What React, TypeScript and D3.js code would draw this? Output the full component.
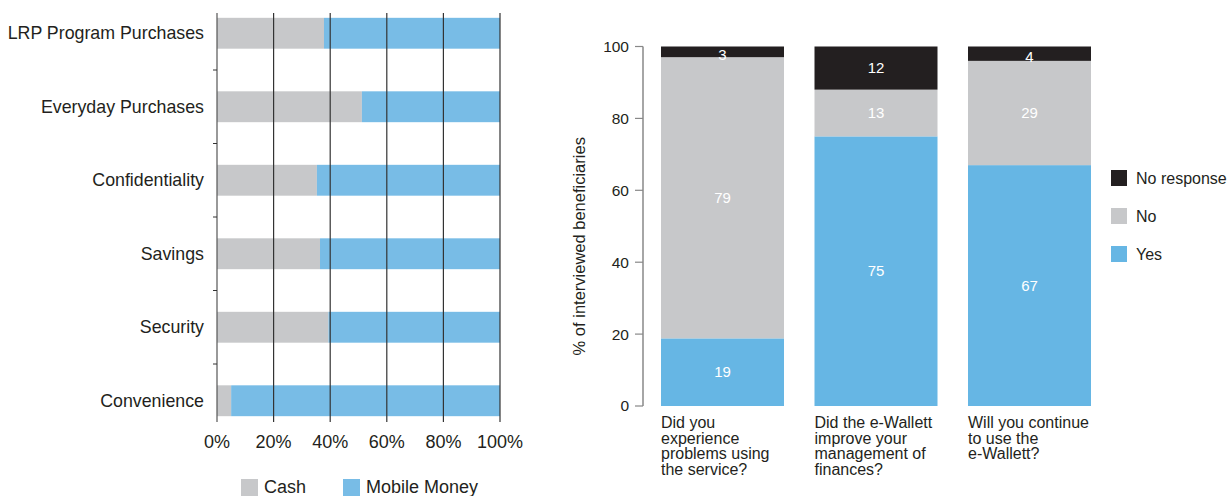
import React from "react";
import * as d3 from "d3";

const leftCategories = ["LRP Program Purchases", "Everyday Purchases", "Confidentiality", "Savings", "Security", "Convenience"];
const cashShare = [37.8, 51.2, 35.3, 36.4, 39.4, 5.0];
const mobileShare = [62.2, 48.8, 64.7, 63.6, 60.6, 95.0];
const leftTicks = [0, 20, 40, 60, 80, 100];
const leftLegend = ["Cash", "Mobile Money"];

const questions = [
  ["Did you", "experience", "problems using", "the service?"],
  ["Did the e-Wallett", "improve your", "management of", "finances?"],
  ["Will you continue", "to use the", "e-Wallett?"],
];
const yesValues = [19, 75, 67];
const noValues = [79, 13, 29];
const noResponseValues = [3, 12, 4];
const rightTicks = [0, 20, 40, 60, 80, 100];
const rightLegend = ["No response", "No", "Yes"];

const FONT = "'Liberation Sans', Arial, Helvetica, sans-serif";
const GRAY = "#c7c8ca";
const BLUE_L = "#78bce6";
const BLUE_R = "#66b6e4";
const BLACK = "#231f20";
const TEXT = "#231f20";

export default function App() {
  // Left chart
  const xL = d3.scaleLinear().domain([0, 100]).range([217, 500]);
  const yL = d3.scaleBand<string>().domain(leftCategories).range([-3.5, 437.5]).paddingInner(0.58).paddingOuter(0.29);
  const step = yL.step();

  // Right chart
  const yR = d3.scaleLinear().domain([0, 100]).range([406, 46.5]);
  const xR = d3.scaleBand<number>().domain([0, 1, 2]).range([661, 1091]).paddingInner(0.1987).paddingOuter(0);

  const stacks = questions.map((_, i) => {
    const total = yesValues[i] + noValues[i] + noResponseValues[i];
    const k = 100 / total;
    const segs = [
      { v: yesValues[i], color: BLUE_R },
      { v: noValues[i], color: GRAY },
      { v: noResponseValues[i], color: BLACK },
    ];
    let acc = 0;
    return segs.map((s) => {
      const y0 = acc;
      acc += s.v * k;
      return { ...s, y0, y1: acc };
    });
  });

  const legendColors = [BLACK, GRAY, BLUE_R];

  return (
    <svg width={1227} height={496} style={{ position: "absolute", left: 0, top: 0, fontFamily: FONT }}>
      {/* Left chart bars */}
      {leftCategories.map((c, i) => {
        const y = yL(c)!;
        const h = yL.bandwidth();
        return (
          <g key={c}>
            <rect x={xL(0)} y={y} width={xL(cashShare[i]) - xL(0)} height={h} fill={GRAY} />
            <rect x={xL(cashShare[i])} y={y} width={xL(cashShare[i] + mobileShare[i]) - xL(cashShare[i])} height={h} fill={BLUE_L} />
            <text x={204} y={y + h / 2} dy="0.35em" textAnchor="end" fontSize={17.8} fill={TEXT}>{c}</text>
          </g>
        );
      })}
      {/* gridlines */}
      {leftTicks.map((t) => (
        <g key={t}>
          <line x1={xL(t)} x2={xL(t)} y1={13} y2={422} stroke={t === 0 ? "#555" : "#333"} strokeWidth={1.2} />
          <text x={xL(t)} y={448} textAnchor="middle" fontSize={18} fill={TEXT}>{t}%</text>
        </g>
      ))}
      {leftCategories.slice(1).map((c) => (
        <line key={c} x1={213} x2={217} y1={yL(c)! - (step - yL.bandwidth()) / 2} y2={yL(c)! - (step - yL.bandwidth()) / 2} stroke="#333" strokeWidth={1} />
      ))}
      {/* left legend */}
      <rect x={241} y={479} width={17} height={17} fill={GRAY} />
      <text x={264} y={493} fontSize={18} fill={TEXT}>{leftLegend[0]}</text>
      <rect x={343} y={479} width={17} height={17} fill={BLUE_L} />
      <text x={366} y={493} fontSize={18} fill={TEXT}>{leftLegend[1]}</text>

      {/* Right chart */}
      <line x1={643} x2={643} y1={yR(100)} y2={yR(0)} stroke="#888" strokeWidth={1.5} />
      {rightTicks.map((t) => (
        <g key={t}>
          <line x1={635} x2={643} y1={yR(t)} y2={yR(t)} stroke="#888" strokeWidth={1.2} />
          <text x={629} y={yR(t)} dy="0.35em" textAnchor="end" fontSize={15.5} fill={TEXT}>{t}</text>
        </g>
      ))}
      <text transform={`translate(585,${yR(50) + 20}) rotate(-90)`} textAnchor="middle" fontSize={16.5} fill={TEXT}>% of interviewed beneficiaries</text>
      {stacks.map((segs, i) => (
        <g key={i}>
          {segs.map((s, j) => (
            <rect key={j} x={xR(i)} y={yR(s.y1)} width={xR.bandwidth()} height={yR(s.y0) - yR(s.y1)} fill={s.color} />
          ))}
          {segs.map((s, j) => (
            <text key={"t" + j} x={xR(i)! + xR.bandwidth() / 2} y={(yR(s.y0) + yR(s.y1)) / 2 + (s.v < 6 ? 3 : 0)} dy="0.35em" textAnchor="middle" fontSize={15} fill="#fff">{s.v}</text>
          ))}
          {questions[i].map((line, k) => (
            <text key={"q" + k} x={xR(i)} y={428 + k * 15.7} fontSize={16} fill={TEXT}>{line}</text>
          ))}
        </g>
      ))}
      {rightLegend.map((l, i) => (
        <g key={l}>
          <rect x={1111} y={170 + i * 38} width={16} height={16} fill={legendColors[i]} />
          <text x={1136} y={178 + i * 38} dy="0.35em" fontSize={16} fill={TEXT}>{l}</text>
        </g>
      ))}
    </svg>
  );
}
